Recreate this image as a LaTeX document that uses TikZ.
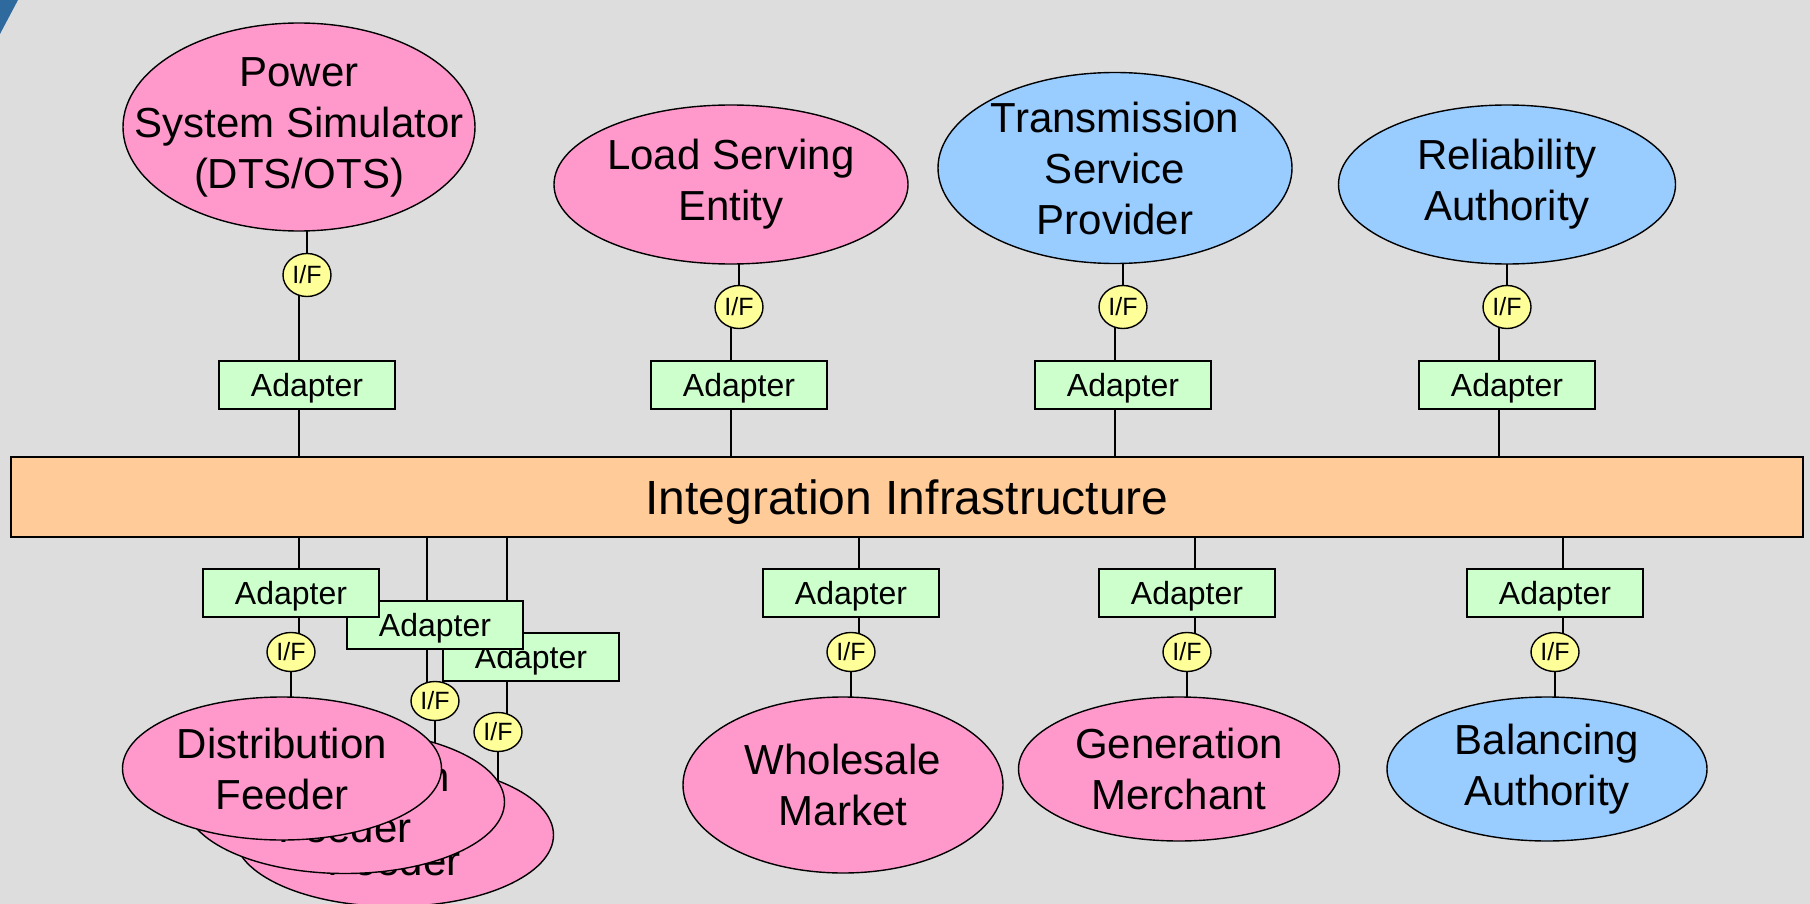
\documentclass[tikz,border=0pt]{standalone}
\usepackage{fontspec}
\setmainfont{Liberation Sans}
\usetikzlibrary{shapes.geometric}
\pgfdeclarelayer{back}
\pgfdeclarelayer{bg}
\pgfsetlayers{back,bg,main}
\definecolor{bgc}{HTML}{DDDDDD}
\definecolor{entpink}{HTML}{FF99CC}
\definecolor{entblue}{HTML}{99CCFF}
\definecolor{adgreen}{HTML}{CCFFCC}
\definecolor{ifyellow}{HTML}{FFFF99}
\definecolor{barorange}{HTML}{FFCC99}
\definecolor{cornerblue}{HTML}{2E6A9E}
\begin{document}
\begin{tikzpicture}[x=0.5pt,y=-0.5pt,
  ent/.style={ellipse, draw=black, line width=0.7pt, inner sep=0pt},
  pinkent/.style={ent, fill=entpink},
  blueent/.style={ent, fill=entblue},
  lbl/.style={font=\fontsize{21}{25.5}\selectfont, align=center, inner sep=0pt},
  adapter/.style={rectangle, draw=black, line width=1pt, fill=adgreen, minimum width=88pt, minimum height=24pt, inner sep=0pt, text height=11.5pt, text depth=0pt, font=\fontsize{16}{19}\selectfont},
  iface/.style={ellipse, draw=black, line width=0.7pt, fill=ifyellow, minimum width=24pt, minimum height=19.5pt, inner sep=0pt, font=\fontsize{12.5}{14}\selectfont},
  ifacetop/.style={iface, minimum height=21.5pt},
  busbar/.style={rectangle, draw=black, line width=1pt, fill=barorange, minimum width=896pt, minimum height=40pt, inner sep=0pt, text height=17.5pt, text depth=0pt, font=\fontsize{24}{28}\selectfont},
  conn/.style={line width=1pt, draw=black}]
\useasboundingbox (0,0) rectangle (1810,904);
\begin{pgfonlayer}{back}
\fill[bgc] (0,0) rectangle (1810,904);
\fill[cornerblue] (0,0) -- (18,0) -- (0,34) -- cycle;
\end{pgfonlayer}

% bus
\node[busbar] (bar) at (907,497) {Integration Infrastructure};

% column x positions on the bus
\coordinate (x1) at (299,497);
\coordinate (x2) at (731,497);
\coordinate (x3) at (1115,497);
\coordinate (x4) at (1499,497);
\coordinate (x5) at (299,497);
\coordinate (x6) at (427,497);
\coordinate (x7) at (507,497);
\coordinate (x8) at (859,497);
\coordinate (x9) at (1195,497);
\coordinate (x10) at (1563,497);

% top row
\node[pinkent, minimum width=176pt, minimum height=104pt, label={[lbl]center:{Power\\System Simulator\\(DTS/OTS)}}] (e1) at (299,127) {};
\node[pinkent, minimum width=177pt, minimum height=79.5pt, label={[lbl]center:{Load Serving\\Entity}}] (e2) at (731,184.5) {};
\node[blueent, minimum width=177pt, minimum height=95.5pt, label={[lbl]center:{Transmission\\Service\\Provider}}] (e3) at (1115,168) {};
\node[blueent, minimum width=168.5pt, minimum height=79.5pt, label={[lbl]center:{Reliability\\Authority}}] (e4) at (1507,184.5) {};

\node[ifacetop] (if1) at (307,275) {I/F};
\node[ifacetop] (if2) at (739,307) {I/F};
\node[ifacetop] (if3) at (1123,307) {I/F};
\node[ifacetop] (if4) at (1507,307) {I/F};

\node[adapter] (ad1) at (307,385) {Adapter};
\node[adapter] (ad2) at (739,385) {Adapter};
\node[adapter] (ad3) at (1123,385) {Adapter};
\node[adapter] (ad4) at (1507,385) {Adapter};

% bottom row adapters (back to front)
\node[adapter] (ad7) at (531,657) {Adapter};
\node[adapter] (ad6) at (435,624.5) {Adapter};
\node[adapter] (ad5) at (291,593) {Adapter};
\node[adapter] (ad8) at (851,593) {Adapter};
\node[adapter] (ad9) at (1187,593) {Adapter};
\node[adapter] (ad10) at (1555,593) {Adapter};

\node[iface] (if5) at (291,652) {I/F};
\node[iface] (if6) at (435,701) {I/F};
\node[iface] (if7) at (498,732) {I/F};
\node[iface] (if8) at (851,652) {I/F};
\node[iface] (if9) at (1187,652) {I/F};
\node[iface] (if10) at (1555,652) {I/F};

% bottom row entities (back to front)
\node[pinkent, minimum width=159.5pt, minimum height=71.5pt, label={[lbl]center:{Distribution\\Feeder}}] (e7) at (394,835) {};
\node[pinkent, minimum width=159.5pt, minimum height=71.5pt, label={[lbl]center:{Distribution\\Feeder}}] (e6) at (345,802) {};
\node[pinkent, minimum width=159.5pt, minimum height=71.5pt, label={[lbl]center:{Distribution\\Feeder}}] (e5) at (282,768.5) {};
\node[pinkent, minimum width=160pt, minimum height=88pt, label={[lbl]center:{Wholesale\\Market}}] (e8) at (843,785) {};
\node[pinkent, minimum width=160.5pt, minimum height=72pt, label={[lbl]center:{Generation\\Merchant}}] (e9) at (1179,769) {};
\node[blueent, minimum width=160pt, minimum height=72pt, label={[lbl]center:{Balancing\\Authority}}] (e10) at (1547,769) {};

\begin{pgfonlayer}{bg}
  % top row
  \foreach \i in {1,2,3,4}{
    \draw[conn] (e\i.center -| if\i) -- (if\i);
    \draw[conn] (if\i -| x\i) -- (ad\i -| x\i);
    \draw[conn] (ad\i -| x\i) -- (bar -| x\i);
  }
  % bottom row
  \foreach \i in {5,6,7,8,9,10}{
    \draw[conn] (bar -| x\i) -- (ad\i -| x\i);
    \draw[conn] (ad\i -| x\i) -- (if\i -| x\i);
    \draw[conn] (if\i) -- (if\i |- e\i.center);
  }
\end{pgfonlayer}
\end{tikzpicture}
\end{document}
